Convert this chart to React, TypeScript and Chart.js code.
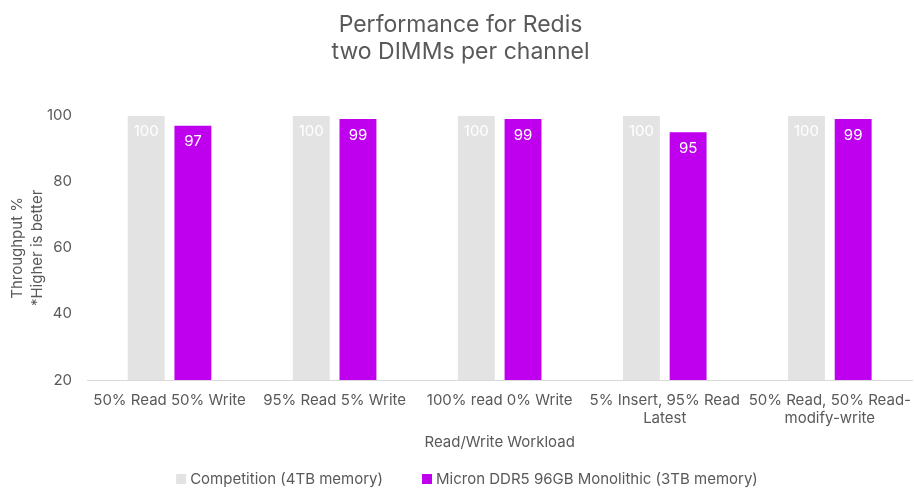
import React, { useEffect, useRef } from "react";
import { Chart, registerables } from "chart.js";

Chart.register(...registerables);

const categories: (string | string[])[] = [
  "50% Read 50% Write",
  "95% Read 5% Write",
  "100% read 0% Write",
  ["5% Insert, 95% Read", "Latest"],
  ["50% Read, 50% Read-", "modify-write"],
];
const competition = [100, 100, 100, 100, 100];
const micron = [97, 99, 99, 95, 99];
const seriesNames = ["Competition (4TB memory)", "Micron DDR5 96GB Monolithic (3TB memory)"];
const seriesColors = ["#e3e3e3", "#bf00ef"];
const titleLines = ["Performance for Redis", "two DIMMs per channel"];
const yTitleLines = ["Throughput %", "*Higher is better"];
const xTitle = "Read/Write Workload";

const FONT = "Inter, 'Noto Sans', sans-serif";
const TEXT = "#595959";

const labelPlugin = {
  id: "barLabels",
  afterDatasetsDraw(chart: any) {
    const ctx = chart.ctx;
    ctx.save();
    ctx.fillStyle = "#ffffff";
    ctx.font = `15px ${FONT}`;
    ctx.textAlign = "center";
    ctx.textBaseline = "middle";
    chart.data.datasets.forEach((ds: any, di: number) => {
      const meta = chart.getDatasetMeta(di);
      meta.data.forEach((bar: any, i: number) => {
        ctx.fillText(String(ds.data[i]), bar.x, bar.y + 16);
      });
    });
    ctx.restore();
  },
};

const legendPlugin = {
  id: "customLegend",
  afterDraw(chart: any) {
    const ctx = chart.ctx;
    ctx.save();
    ctx.font = `15px ${FONT}`;
    ctx.textBaseline = "middle";
    ctx.textAlign = "left";
    const box = 10;
    const gapBoxText = 4;
    const gapItems = 39;
    const items = chart.data.datasets.map((d: any) => ({
      text: d.label,
      color: d.backgroundColor,
      w: box + gapBoxText + ctx.measureText(d.label).width,
    }));
    const total = items.reduce((s: number, it: any) => s + it.w, 0) + gapItems * (items.length - 1);
    let x = (chart.width - total) / 2 + 10;
    const y = 479;
    items.forEach((it: any) => {
      ctx.fillStyle = it.color;
      ctx.fillRect(x, y - box / 2, box, box);
      ctx.fillStyle = TEXT;
      ctx.fillText(it.text, x + box + gapBoxText, y);
      x += it.w + gapItems;
    });
    ctx.restore();
  },
};

export default function App() {
  const ref = useRef<HTMLCanvasElement>(null);
  useEffect(() => {
    if (!ref.current) return;
    const chart = new Chart(ref.current, {
      type: "bar",
      data: {
        labels: categories,
        datasets: [
          {
            label: seriesNames[0],
            data: competition,
            backgroundColor: seriesColors[0],
            categoryPercentage: 0.566,
            barPercentage: 0.79,
          },
          {
            label: seriesNames[1],
            data: micron,
            backgroundColor: seriesColors[1],
            categoryPercentage: 0.566,
            barPercentage: 0.79,
          },
        ],
      },
      options: {
        responsive: false,
        animation: false,
        layout: { padding: { left: 7, right: 0, top: 12, bottom: 39 } },
        plugins: {
          legend: { display: false },
          tooltip: { enabled: false },
          title: {
            display: true,
            text: titleLines,
            color: TEXT,
            font: { family: FONT, size: 23, weight: "normal", lineHeight: 1.17 },
            padding: { top: 0, bottom: 50 },
          },
        },
        scales: {
          x: {
            grid: { display: false },
            border: { display: true, color: "#d9d9d9" },
            ticks: {
              color: TEXT,
              font: { family: FONT, size: 15, lineHeight: 1.2 },
              maxRotation: 0,
              autoSkip: false,
              padding: 3,
            },
            title: {
              display: true,
              text: xTitle,
              color: TEXT,
              font: { family: FONT, size: 15, lineHeight: 1.2 },
              padding: { top: 3, bottom: 0 },
            },
          },
          y: {
            min: 20,
            max: 100,
            afterFit(scale: any) {
              scale.width = 80;
            },
            ticks: {
              stepSize: 20,
              color: TEXT,
              font: { family: FONT, size: 15 },
              padding: 7,
            },
            grid: { display: false },
            border: { display: false },
            title: {
              display: true,
              text: yTitleLines,
              color: TEXT,
              font: { family: FONT, size: 15, lineHeight: 1.35 },
              padding: { top: 0, bottom: 0 },
            },
          },
        },
      },
      plugins: [labelPlugin, legendPlugin],
    });
    return () => chart.destroy();
  }, []);
  return (
    <div style={{ position: "absolute", left: 0, top: 0, width: 914, height: 490, background: "#fff" }}>
      <canvas ref={ref} width={914} height={490} style={{ display: "block" }} />
    </div>
  );
}
